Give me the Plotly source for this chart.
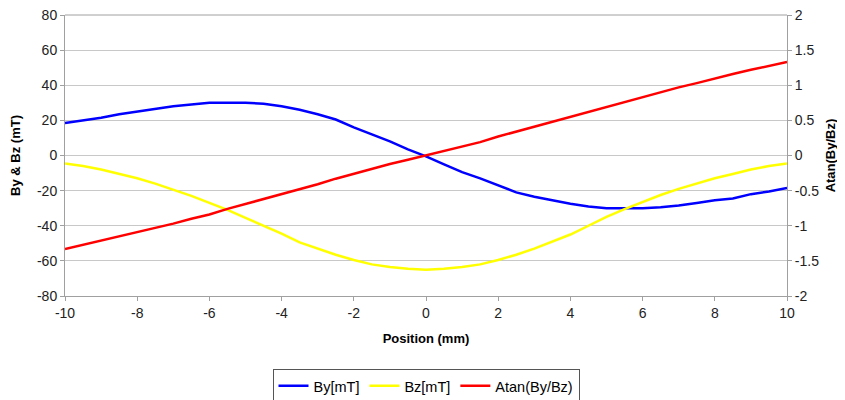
import plotly.graph_objects as go

position = [-10, -9.5, -9, -8.5, -8, -7.5, -7, -6.5, -6, -5.5, -5, -4.5, -4, -3.5, -3, -2.5, -2, -1.5, -1, -0.5,
            0, 0.5, 1, 1.5, 2, 2.5, 3, 3.5, 4, 4.5, 5, 5.5, 6, 6.5, 7, 7.5, 8, 8.5, 9, 9.5, 10]

by_mt = [18.5, 20, 21.5, 23.5, 25, 26.5, 28, 29, 30, 30, 30, 29.5, 28, 26, 23.5, 20.5, 16, 12, 8, 3.5,
         -0.5, -5, -9.5, -13, -17, -21, -23.5, -25.5, -27.5, -29, -30, -30, -30, -29.5, -28.5, -27, -25.5, -24.5, -22, -20.5, -18.5]

bz_mt = [-4.5, -6, -8, -10.5, -13, -16, -19.5, -23, -27, -31, -35.5, -40, -44.5, -49.5, -53, -56.5, -59.5, -62, -63.5, -64.5,
         -65, -64.5, -63.5, -62, -59.5, -56.5, -53, -49, -45, -40, -35, -30.5, -26.5, -22.5, -19, -16, -13, -10.5, -8, -6, -4.5]

atan_ratio = [-1.33, -1.27, -1.22, -1.16, -1.10, -1.03, -0.97, -0.90, -0.84, -0.76, -0.69, -0.62, -0.56, -0.48, -0.41, -0.33, -0.26, -0.18, -0.12, -0.06,
              0.0, 0.07, 0.13, 0.19, 0.27, 0.34, 0.41, 0.48, 0.56, 0.62, 0.70, 0.77, 0.84, 0.90, 0.97, 1.03, 1.10, 1.16, 1.22, 1.28, 1.33]

x_ticks = [-10, -8, -6, -4, -2, 0, 2, 4, 6, 8, 10]
x_tick_labels = ["-10", "-8", "-6", "-4", "-2", "0", "2", "4", "6", "8", "10"]
y_ticks = [-80, -60, -40, -20, 0, 20, 40, 60, 80]
y_tick_labels = ["-80", "-60", "-40", "-20", "0", "20", "40", "60", "80"]
y2_ticks = [-2, -1.5, -1, -0.5, 0, 0.5, 1, 1.5, 2]
y2_tick_labels = ["-2", "-1.5", "-1", "-0.5", "0", "0.5", "1", "1.5", "2"]

font_family = "Liberation Sans, Arial, sans-serif"

fig = go.Figure()
fig.add_trace(go.Scatter(x=position, y=by_mt, mode="lines", name="By[mT]",
                         line=dict(color="#0000FF", width=2.5)))
fig.add_trace(go.Scatter(x=position, y=bz_mt, mode="lines", name="Bz[mT]",
                         line=dict(color="#FFFF00", width=2.5)))
fig.add_trace(go.Scatter(x=position, y=atan_ratio, mode="lines", name="Atan(By/Bz)",
                         line=dict(color="#FF0000", width=2.5), yaxis="y2"))

axis_common = dict(showline=True, linecolor="#A0A0A0", linewidth=1, ticks="outside",
                   ticklen=4, tickcolor="#A0A0A0", zeroline=False, automargin=False,
                   ticklabeloverflow="allow",
                   tickfont=dict(family=font_family, size=14, color="#222222"))

fig.update_layout(
    template="none",
    width=837, height=392,
    margin=dict(l=57, r=58, t=7, b=104, autoexpand=False),
    paper_bgcolor="white", plot_bgcolor="white",
    font=dict(family=font_family, color="#000000"),
    xaxis=dict(range=[-10, 10], tickvals=x_ticks, ticktext=x_tick_labels, showgrid=False,
               title=dict(text="<b>Position (mm)</b>", font=dict(size=13), standoff=14),
               **axis_common),
    yaxis=dict(range=[-80, 80], tickvals=y_ticks, ticktext=y_tick_labels,
               showgrid=True, gridcolor="#C8C8C8", gridwidth=1,
               title=dict(text="<b>By & Bz (mT)</b>", font=dict(size=13), standoff=13),
               **axis_common),
    yaxis2=dict(range=[-2, 2], tickvals=y2_ticks, ticktext=y2_tick_labels,
                overlaying="y", side="right", showgrid=False,
                title=dict(text="<b>Atan(By/Bz)</b>", font=dict(size=13), standoff=7),
                **axis_common),
    legend=dict(orientation="h", x=0.5, xanchor="center", y=-0.32, yanchor="middle",
                bordercolor="#555555", borderwidth=1, bgcolor="white",
                font=dict(size=14.5, family=font_family)),
    showlegend=True,
)

fig.add_shape(type="line", xref="paper", yref="paper", x0=0, x1=1, y0=1, y1=1,
              line=dict(color="#A0A0A0", width=1))

fig.write_html("out.html")
